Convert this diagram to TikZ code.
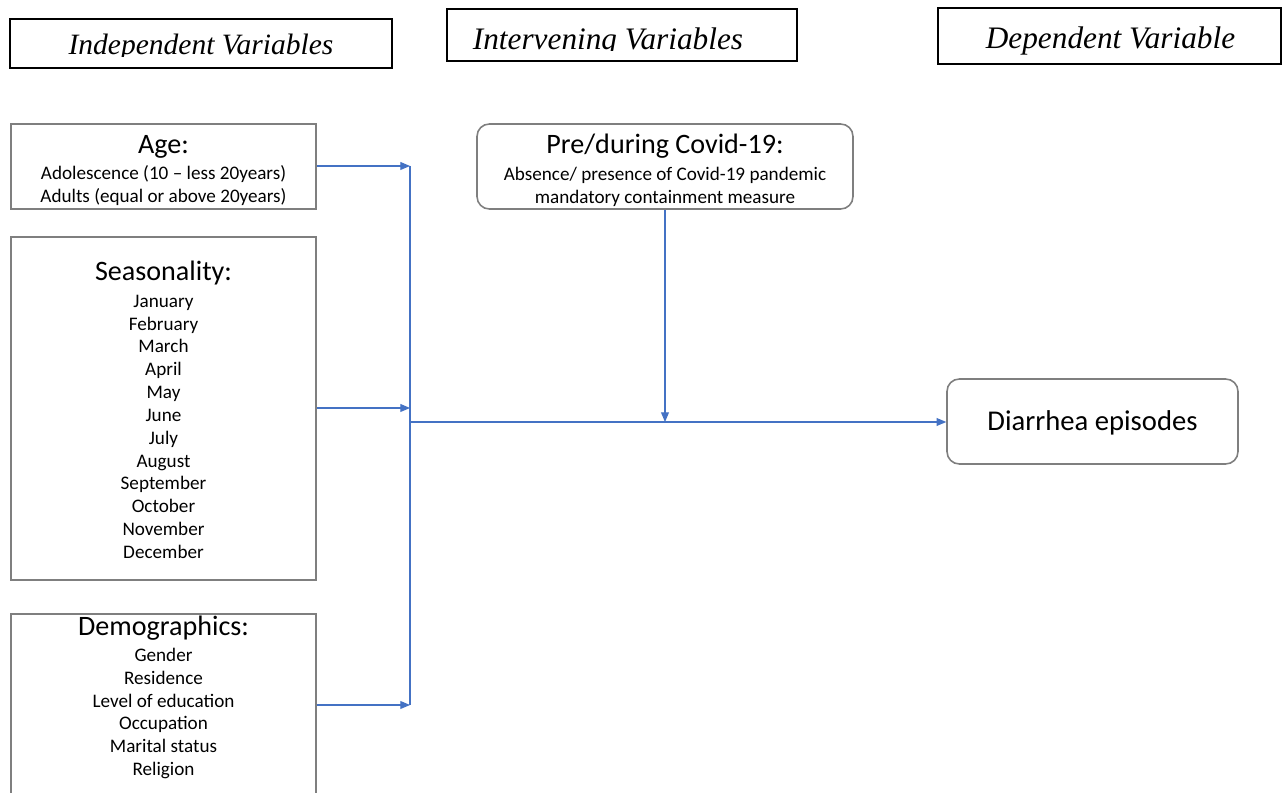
\documentclass[tikz,border=0pt]{standalone}
\usepackage{fontspec}
\setmainfont{Carlito}
\newfontfamily\titlefont{Liberation Serif}
\usetikzlibrary{arrows.meta}
\definecolor{linkblue}{HTML}{4472C4}
\definecolor{boxgray}{HTML}{7F7F7F}
\newcommand{\headline}[1]{{\fontsize{16}{19}\selectfont #1}}

\begin{document}
\begin{tikzpicture}[x=0.02cm,y=-0.02cm,
	titlebox/.style={draw=black,line width=0.7pt},
	titletext/.style={font=\titlefont\itshape\fontsize{#1}{20}\selectfont,anchor=base},
	varbox/.style={draw=boxgray,line width=0.9pt},
	vartext/.style={align=center,inner sep=0pt,font=\fontsize{10.9}{13}\selectfont},
	roundbox/.style={varbox,rounded corners=7pt},
	link/.style={linkblue,line width=0.6pt},
	linkarrow/.style={link,-{Triangle[length=5.5pt,width=4.5pt]}}]
	\useasboundingbox (0,0) rectangle (1286,793);

	% titles
	\node[titlebox,minimum width=7.64cm,minimum height=0.98cm] (indep) at (201,43.5) {};
	\node[titlebox,minimum width=7.0cm,minimum height=1.04cm] (interv) at (622,35) {};
	\node[titlebox,minimum width=6.86cm,minimum height=1.12cm] (dep) at (1109.5,36) {};
	\begin{scope}
		\clip (10,19) rectangle (392,57);
		\node[titletext=16.8] (indeptext) at (201,55) {Independent Variables};
	\end{scope}
	\begin{scope}
		\clip (447,9) rectangle (797,51);
		\node[titletext=17.8] (intervtext) at (608,50) {Intervening Variables};
	\end{scope}
	\node[titletext=17.8] (deptext) at (1110.5,49) {Dependent Variable};

	% variable boxes
	\node[varbox,minimum width=6.1cm,minimum height=1.7cm] (age) at (163.5,166.5) {};
	\node[varbox,minimum width=6.1cm,minimum height=6.86cm] (season) at (163.5,408.5) {};
	\node[varbox,minimum width=6.1cm,minimum height=4.12cm] (demo) at (163.5,717) {};
	\node[roundbox,minimum width=7.52cm,minimum height=1.7cm] (covid) at (665,166.5) {};
	\node[roundbox,minimum width=5.82cm,minimum height=1.7cm,font=\fontsize{16.3}{19}\selectfont,
		text height=12pt,text depth=1.4pt] (diarrhea) at (1092.5,421.5) {Diarrhea episodes};

	% box texts
	\node[vartext,anchor=north] (agetext) at (163.5,135)
		{\headline{Age:}\\[2pt]Adolescence (10 -- less 20years)\\Adults (equal or above 20years)};
	\node[vartext] (seasontext) at (163.5,410)
		{\headline{Seasonality:}\\[2pt]January\\February\\March\\April\\May\\June\\July\\August\\September\\October\\November\\December};
	\node[vartext,anchor=north] (demotext) at (163.5,616)
		{\headline{Demographics:}\\[1.5pt]Gender\\Residence\\Level of education\\Occupation\\Marital status\\Religion};
	\node[vartext,anchor=north] (covidtext) at (665,134)
		{\headline{Pre/during Covid-19:}\\[2pt]Absence/ presence of Covid-19 pandemic\\mandatory containment measure};

	% connectors
	\coordinate (jage) at (410,166);
	\coordinate (jseason) at (410,408);
	\coordinate (jdemo) at (410,705);
	\coordinate (jout) at (410,422);
	\coordinate (jcovid) at (665,422);

	\draw[link] (jage) -- (jdemo);
	\draw[linkarrow] (age.east |- jage) -- (jage);
	\draw[linkarrow] (season.east |- jseason) -- (jseason);
	\draw[linkarrow] (demo.east |- jdemo) -- (jdemo);
	\draw[linkarrow] (jout) -- (diarrhea.west |- jout);
	\draw[linkarrow] (covid.south) -- (jcovid);
\end{tikzpicture}
\end{document}
